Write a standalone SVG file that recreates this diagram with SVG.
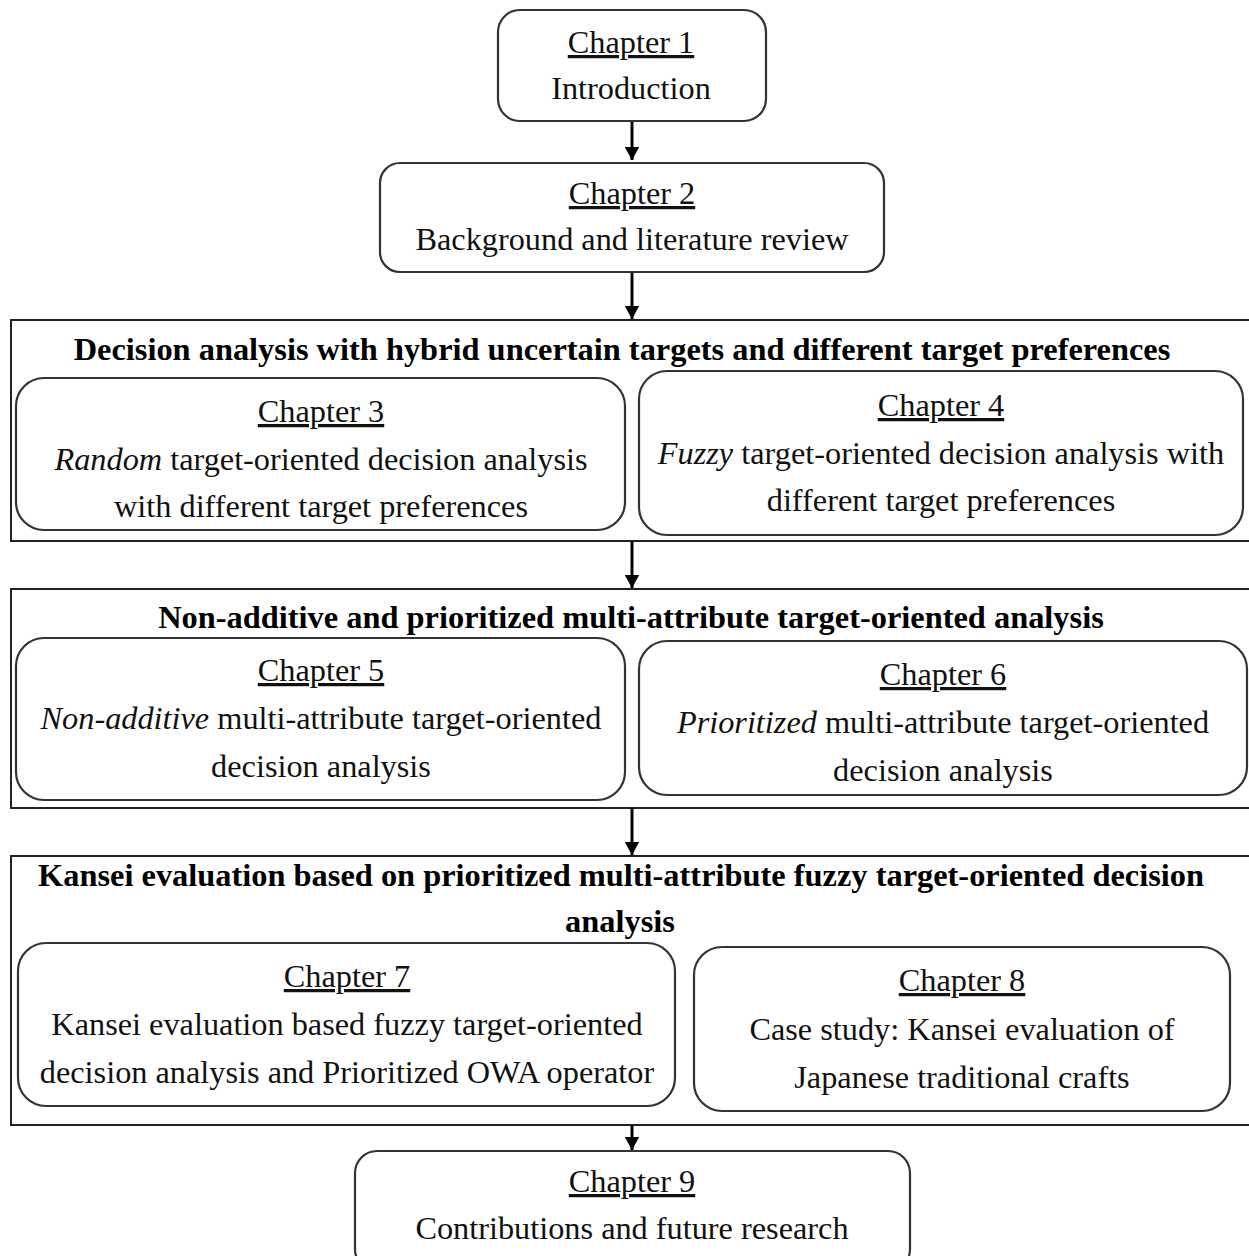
<svg xmlns="http://www.w3.org/2000/svg" width="1249" height="1256" viewBox="0 0 1249 1256">
<style>
.box{fill:#fff;stroke:#333;stroke-width:2.2}
.frame{fill:none;stroke:#222;stroke-width:2}
.t{font-family:"Liberation Serif","Times New Roman",serif;font-size:32.3px;fill:#111;text-anchor:middle}
.h{text-decoration:underline}
.b{font-family:"Liberation Serif","Times New Roman",serif;font-size:32.4px;font-weight:bold;fill:#000;text-anchor:middle}
.i{font-style:italic}
.c{stroke:#000;stroke-width:3;fill:none}
</style>
<defs>
<marker id="ah" markerWidth="4.5" markerHeight="5" refX="4.5" refY="2.5" orient="auto" markerUnits="strokeWidth">
<path d="M0,0 L4.5,2.5 L0,5 Z" fill="#000"/>
</marker>
</defs>
<rect width="1249" height="1256" fill="#fff"/>
<g id="section1"><rect class="frame" x="11" y="320" width="1248" height="221"/>
<text class="b" x="622" y="360">Decision analysis with hybrid uncertain targets and different target preferences</text></g>
<g id="section2"><rect class="frame" x="11" y="589" width="1248" height="219"/>
<text class="b" x="631" y="628">Non-additive and prioritized multi-attribute target-oriented analysis</text></g>
<g id="section3"><rect class="frame" x="11" y="856" width="1248" height="269"/>
<text class="b" x="621" y="886">Kansei evaluation based on prioritized multi-attribute fuzzy target-oriented decision</text>
<text class="b" x="620" y="932">analysis</text></g>
<g id="connectors">
<line class="c" x1="632" y1="121" x2="632" y2="160" marker-end="url(#ah)"/>
<line class="c" x1="632" y1="272" x2="632" y2="319" marker-end="url(#ah)"/>
<line class="c" x1="632" y1="541" x2="632" y2="588" marker-end="url(#ah)"/>
<line class="c" x1="632" y1="808" x2="632" y2="855" marker-end="url(#ah)"/>
<line class="c" x1="632" y1="1125" x2="632" y2="1150" marker-end="url(#ah)"/>
</g>
<g id="ch1"><rect class="box" x="498" y="10" width="268" height="111" rx="22"/>
<text class="t h" x="631" y="53">Chapter 1</text>
<text class="t" x="631" y="99">Introduction</text></g>
<g id="ch2"><rect class="box" x="380" y="163" width="504" height="109" rx="20"/>
<text class="t h" x="632" y="204">Chapter 2</text>
<text class="t" x="632" y="250">Background and literature review</text></g>
<g id="ch3"><rect class="box" x="16" y="378" width="609" height="152" rx="28"/>
<text class="t h" x="321" y="422">Chapter 3</text>
<text class="t" x="321" y="470"><tspan class="i">Random</tspan> target-oriented decision analysis</text>
<text class="t" x="321" y="517">with different target preferences</text></g>
<g id="ch4"><rect class="box" x="639" y="371" width="604" height="164" rx="28"/>
<text class="t h" x="941" y="416">Chapter 4</text>
<text class="t" x="941" y="464"><tspan class="i">Fuzzy</tspan> target-oriented decision analysis with</text>
<text class="t" x="941" y="511">different target preferences</text></g>
<g id="ch5"><rect class="box" x="16" y="638" width="609" height="162" rx="28"/>
<text class="t h" x="321" y="681">Chapter 5</text>
<text class="t" x="321" y="729"><tspan class="i">Non-additive</tspan> multi-attribute target-oriented</text>
<text class="t" x="321" y="777">decision analysis</text></g>
<g id="ch6"><rect class="box" x="639" y="641" width="608" height="154" rx="28"/>
<text class="t h" x="943" y="685">Chapter 6</text>
<text class="t" x="943" y="733"><tspan class="i">Prioritized</tspan> multi-attribute target-oriented</text>
<text class="t" x="943" y="781">decision analysis</text></g>
<g id="ch7"><rect class="box" x="18" y="943" width="657" height="163" rx="28"/>
<text class="t h" x="347" y="987">Chapter 7</text>
<text class="t" x="347" y="1035">Kansei evaluation based fuzzy target-oriented</text>
<text class="t" x="347" y="1083">decision analysis and Prioritized OWA operator</text></g>
<g id="ch8"><rect class="box" x="694" y="947" width="536" height="164" rx="28"/>
<text class="t h" x="962" y="991">Chapter 8</text>
<text class="t" x="962" y="1040">Case study: Kansei evaluation of</text>
<text class="t" x="962" y="1088">Japanese traditional crafts</text></g>
<g id="ch9"><rect class="box" x="355" y="1151" width="555" height="120" rx="22"/>
<text class="t h" x="632" y="1192">Chapter 9</text>
<text class="t" x="632" y="1239">Contributions and future research</text></g>
</svg>
